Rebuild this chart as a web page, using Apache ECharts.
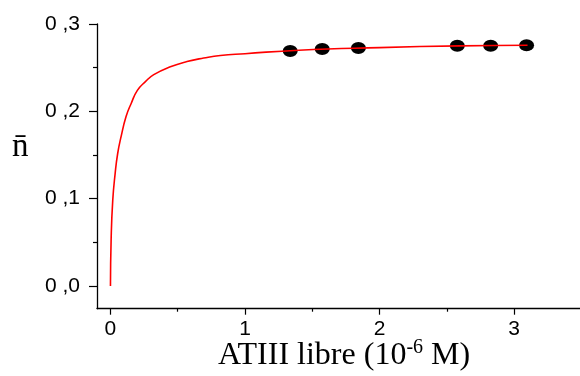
<!DOCTYPE html>
<html>
<head>
<meta charset="utf-8">
<script src="https://cdn.jsdelivr.net/npm/echarts@6/dist/echarts.min.js"></script>
<style>html,body{margin:0;padding:0;background:#fff}#c{width:580px;height:376px}</style>
</head>
<body>
<div id="c"></div>
<script>
// fitted curve
const curveX = [0, 0.005, 0.017, 0.035, 0.054, 0.079, 0.116, 0.154, 0.2, 0.26, 0.322, 0.445, 0.569, 0.693, 0.817, 1.0, 1.4, 2.0, 2.6, 3.1];
const curveY = [0, 0.053, 0.098, 0.129, 0.152, 0.171, 0.194, 0.209, 0.224, 0.234, 0.242, 0.251, 0.257, 0.261, 0.264, 0.266, 0.270, 0.273, 0.275, 0.2756];
// measured points
const pointX = [1.336, 1.574, 1.843, 2.578, 2.826, 3.093];
const pointY = [0.2691, 0.2714, 0.2725, 0.2752, 0.2752, 0.2756];
// ticks
const xMajor = [0, 1, 2, 3];
const xMinor = [0.5, 1.5, 2.5];
const yMajor = [0, 0.1, 0.2, 0.3];
const yMinor = [0.05, 0.15, 0.25];
const xTitle = 'ATIII libre (10';
const xTitleSup = '-6';
const xTitleEnd = ' M)';
const yTitle = 'n\u0304';

const chart = echarts.init(document.getElementById('c'), null, {renderer: 'canvas'});
const xRange = {min: -0.1, max: 3.49};
const yRange = {min: -0.026, max: 0.3};
const fmtY = v => { const s = v.toFixed(1).split('.'); return s[0] + ' ,' + s[1]; };

chart.setOption({
  animation: false,
  backgroundColor: '#fff',
  grid: {left: 97, right: 0, top: 24, bottom: 67.3, containLabel: false},
  xAxis: [{
    type: 'value', ...xRange,
    axisLine: {show: true, onZero: false, lineStyle: {color: '#000', width: 1.3}},
    axisTick: {show: true, customValues: xMajor, length: 6, lineStyle: {color: '#000', width: 1.2}},
    axisLabel: {show: true, customValues: xMajor, margin: 10, fontFamily: 'Liberation Sans', fontSize: 21, color: '#000'},
    splitLine: {show: false}
  }, {
    type: 'value', ...xRange, position: 'bottom',
    axisLine: {show: false, onZero: false},
    axisTick: {show: true, customValues: xMinor, length: 3, lineStyle: {color: '#000', width: 1.2}},
    axisLabel: {show: false},
    splitLine: {show: false}
  }],
  yAxis: [{
    type: 'value', ...yRange,
    axisLine: {show: true, onZero: false, lineStyle: {color: '#000', width: 1.3}},
    axisTick: {show: true, customValues: yMajor, length: 8, lineStyle: {color: '#000', width: 1.2}},
    axisLabel: {show: true, customValues: yMajor, margin: 17, formatter: fmtY, fontFamily: 'Liberation Sans', fontSize: 21, color: '#000'},
    splitLine: {show: false}
  }, {
    type: 'value', ...yRange, position: 'left',
    axisLine: {show: false, onZero: false},
    axisTick: {show: true, customValues: yMinor, length: 4, lineStyle: {color: '#000', width: 1.2}},
    axisLabel: {show: false},
    splitLine: {show: false}
  }],
  graphic: [{
    type: 'text', left: 218, top: 338,
    style: {
      text: '{a|' + xTitle + '}{s|' + xTitleSup + '}{a|' + xTitleEnd + '}',
      rich: {
        a: {fontFamily: 'Liberation Serif', fontSize: 32, fill: '#000', lineHeight: 36},
        s: {fontFamily: 'Liberation Serif', fontSize: 20, fill: '#000', verticalAlign: 'top', lineHeight: 22}
      }
    }
  }, {
    type: 'text', left: 12, top: 131,
    style: {text: yTitle, fontFamily: 'Liberation Serif', fontSize: 33, fill: '#000'}
  }],
  series: [{
    type: 'scatter', xAxisIndex: 0, yAxisIndex: 0,
    data: pointX.map((x, i) => [x, pointY[i]]),
    symbol: 'circle', symbolSize: [15, 12],
    itemStyle: {color: '#000', opacity: 1}, z: 2
  }, {
    type: 'line', xAxisIndex: 0, yAxisIndex: 0,
    data: curveX.map((x, i) => [x, curveY[i]]),
    smooth: 0.5, showSymbol: false, symbol: 'none',
    lineStyle: {color: '#ff0000', width: 1.6}, z: 3
  }]
});
</script>
</body>
</html>
